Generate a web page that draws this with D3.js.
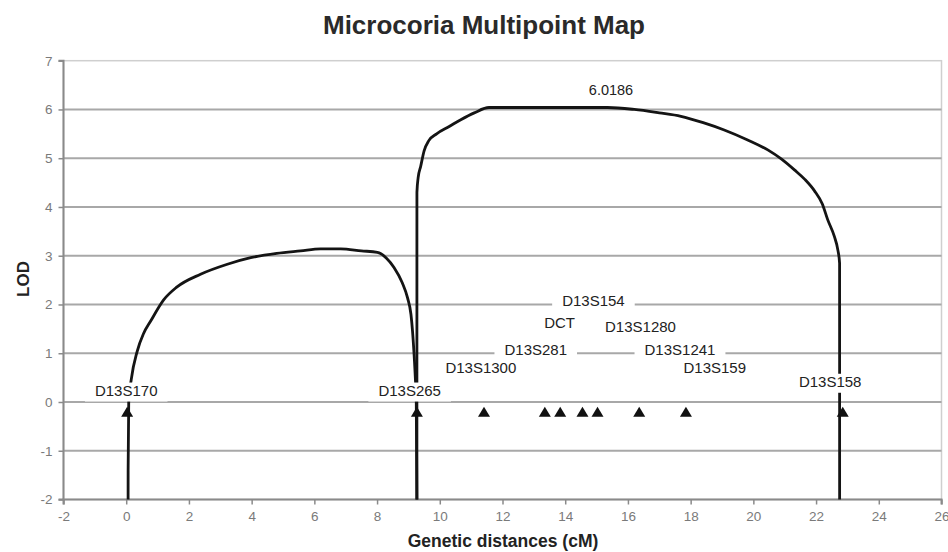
<!DOCTYPE html>
<html><head><meta charset="utf-8">
<script src="https://cdn.jsdelivr.net/npm/d3@7"></script>
<style>
html,body{margin:0;padding:0;background:#fff;}
text{font-family:"Liberation Sans",Arial,sans-serif;}
</style></head>
<body>
<svg id="chart" width="948" height="552"></svg>
<script>
// ---- data ----
const xTicks = [-2,0,2,4,6,8,10,12,14,16,18,20,22,24,26];
const yTicks = [-2,-1,0,1,2,3,4,5,6,7];
const curve1 = [[0.06,-2],[0.061,-1.4],[0.08,0],[0.16,0.46],[0.35,1.04],[0.55,1.4],[0.78,1.66],[1.2,2.1],[1.6,2.35],[2.37,2.62],[3.2,2.82],[3.97,2.96],[4.8,3.05],[5.56,3.1],[6.2,3.14],[6.84,3.14],[7.5,3.1],[8.01,3.07],[8.3,2.95],[8.54,2.76],[8.8,2.45],[8.97,2.14],[9.08,1.8],[9.13,1.46],[9.18,0.98],[9.22,0.5],[9.25,0],[9.27,-2]];
const curve2 = [[9.27,-2],[9.271,4.3],[9.31,4.6],[9.39,4.83],[9.5,5.15],[9.65,5.36],[9.9,5.5],[10.3,5.65],[10.67,5.79],[11.1,5.93],[11.57,6.04],[13.5,6.04],[15.35,6.04],[16.2,6.0],[17.0,5.93],[17.69,5.86],[18.4,5.73],[19.07,5.58],[19.8,5.38],[20.46,5.17],[20.9,4.98],[21.31,4.76],[21.65,4.56],[21.95,4.33],[22.2,4.06],[22.37,3.74],[22.58,3.4],[22.7,3.1],[22.75,2.85],[22.751,-2]];
const markerCM = [0.03,9.27,11.41,13.35,13.84,14.55,15.03,16.36,17.85,22.85];
const markerLOD = -0.2;
const labelNames = ["D13S170","D13S265","D13S1300","D13S281","DCT","D13S154","D13S1280","D13S1241","D13S159","D13S158"];
const labelCM  = [0.0,9.04,11.31,13.06,13.82,14.9,16.4,17.66,18.77,22.45];
const labelLOD = [0.24,0.24,0.7,1.08,1.62,2.07,1.55,1.08,0.71,0.42];
const peakLabel = "6.0186";
const peakCM = 15.46, peakLOD = 6.4;

// ---- drawing ----
const svg = d3.select("#chart");
const x = d3.scaleLinear().domain([-2,26]).range([63.5,941.5]);
const y = d3.scaleLinear().domain([-2,7]).range([499.5,60.7]);

svg.append("text").attr("x",484).attr("y",34).attr("text-anchor","middle")
  .attr("font-size",25).attr("font-weight","bold").attr("fill","#2a2a2a")
  .attr("textLength",322).attr("lengthAdjust","spacingAndGlyphs")
  .text("Microcoria Multipoint Map");

// plot border
svg.append("rect").attr("x",x(-2)).attr("y",y(7)).attr("width",x(26)-x(-2)).attr("height",y(-2)-y(7))
  .attr("fill","none").attr("stroke","#cfcfcf").attr("stroke-width",1.5);

// gridlines
svg.append("g").selectAll("line").data(yTicks.filter(d=>d>-2 && d<7)).join("line")
  .attr("x1",x(-2)).attr("x2",x(26)).attr("y1",d=>y(d)).attr("y2",d=>y(d))
  .attr("stroke","#a8a8a8").attr("stroke-width",2);

// axes
const fmt = d => String(d);
const xAxis = svg.append("g").attr("transform",`translate(0,${y(-2)})`)
  .call(d3.axisBottom(x).tickValues(xTicks).tickSize(5).tickPadding(7).tickFormat(fmt));
const yAxis = svg.append("g").attr("transform",`translate(${x(-2)},0)`)
  .call(d3.axisLeft(y).tickValues(yTicks).tickSize(5).tickPadding(6).tickFormat(fmt));
[xAxis,yAxis].forEach(a=>{
  a.select(".domain").attr("stroke","#8a8a8a").attr("stroke-width",2);
  a.selectAll(".tick line").attr("stroke","#8a8a8a").attr("stroke-width",1.5);
  a.selectAll(".tick text").attr("fill","#7a7a7a").attr("font-size",13.5)
    .attr("font-family","'Liberation Sans',Arial,sans-serif");
});
xAxis.select(".domain").attr("d",`M${x(-2)},5V0H${x(26)}V5`);
yAxis.select(".domain").attr("d",`M-5,${y(7)}H0V${y(-2)}H-5`);

// curves
const lineC = d3.line().x(d=>x(d[0])).y(d=>y(d[1])).curve(d3.curveMonotoneX);
[curve1,curve2].forEach(c=>{
  svg.append("path").attr("d",lineC(c)).attr("fill","none")
    .attr("stroke","#141414").attr("stroke-width",2.8).attr("stroke-linejoin","round");
});

// triangles
const triW = 12, triH = 10;
svg.append("g").selectAll("path").data(markerCM).join("path")
  .attr("d",d=>{const cx=x(d), cy=y(markerLOD);
    return `M${cx},${cy-triH/2}L${cx+triW/2},${cy+triH/2}L${cx-triW/2},${cy+triH/2}Z`;})
  .attr("fill","#111");

// labels with white background
const lbl = svg.append("g").selectAll("g").data(labelNames).join("g");
lbl.each(function(name,i){
  const g = d3.select(this);
  const t = g.append("text").attr("x",x(labelCM[i])).attr("y",y(labelLOD[i]))
    .attr("text-anchor","middle").attr("dy","0.35em").attr("font-size",15).attr("fill","#222")
    .text(name);
  const bb = t.node().getBBox();
  g.insert("rect","text").attr("x",bb.x-10).attr("y",bb.y+1).attr("width",bb.width+20).attr("height",bb.height+2)
    .attr("fill","#fff");
});

svg.append("text").attr("x",x(peakCM)).attr("y",y(peakLOD)).attr("dy","0.35em")
  .attr("text-anchor","middle").attr("font-size",14.5).attr("fill","#222").text(peakLabel);

// axis titles
svg.append("text").attr("x",503).attr("y",547).attr("text-anchor","middle")
  .attr("font-size",17.5).attr("font-weight","bold").attr("fill","#222").text("Genetic distances (cM)");
svg.append("text").attr("transform","translate(29,279) rotate(-90)").attr("text-anchor","middle")
  .attr("font-size",17).attr("font-weight","bold").attr("fill","#222").text("LOD");
</script>
</body></html>
